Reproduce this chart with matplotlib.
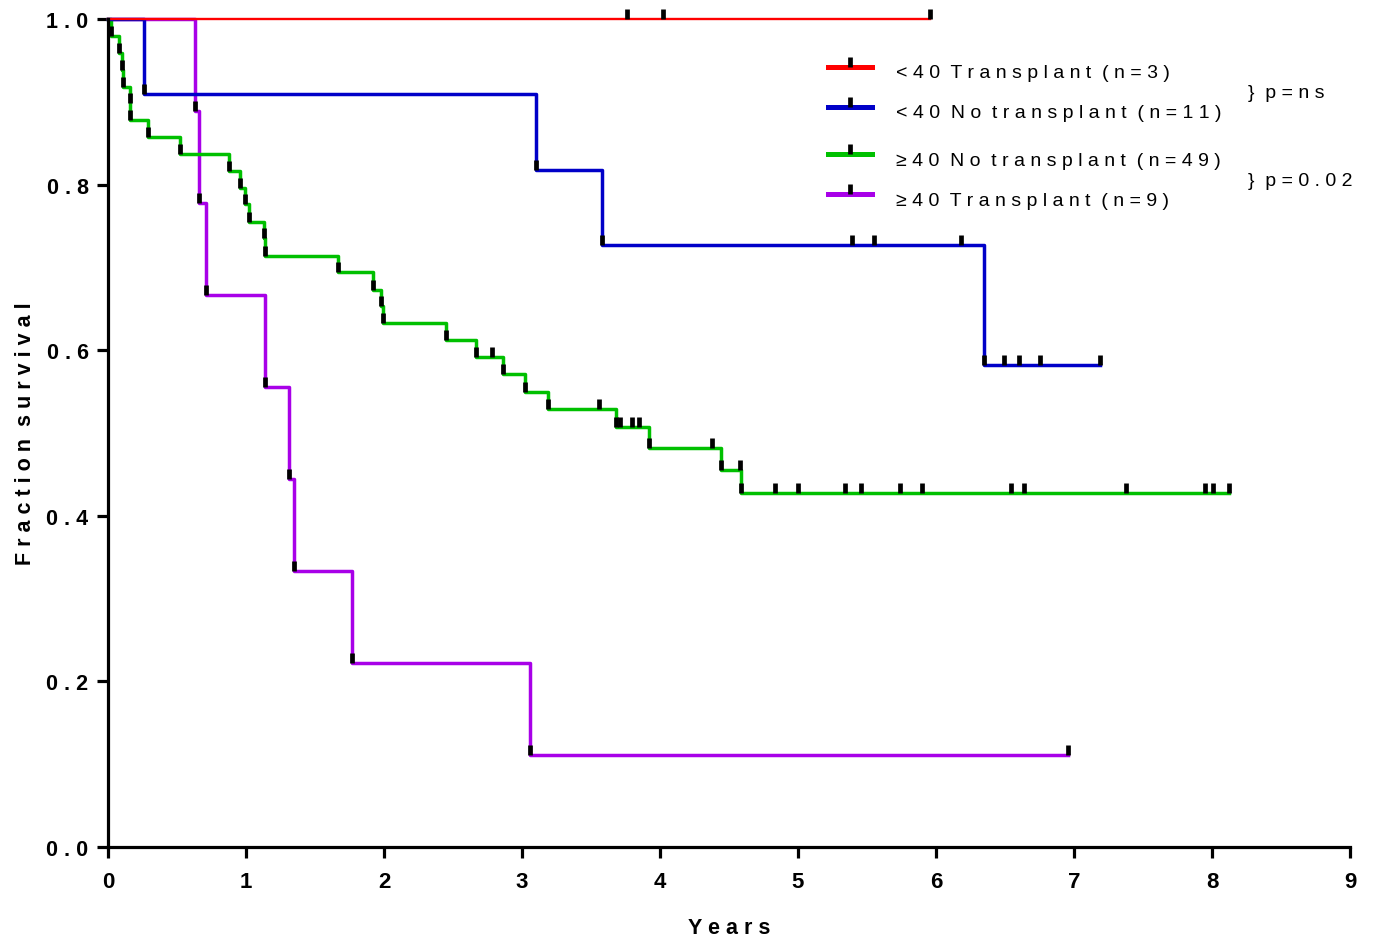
import numpy as np
import matplotlib
matplotlib.use('Agg')
import matplotlib.pyplot as plt
from matplotlib.lines import Line2D
from matplotlib.path import Path

plt.rcParams['font.family'] = ['Liberation Sans', 'DejaVu Sans']

# step times (years) and survival fraction
red_t = [0.0, 5.96]
red_s = [1.0, 1.0]
red_cens = [3.76, 4.02, 5.96]

blue_t = [0.0, 0.26, 3.10, 3.58, 6.35, 7.19]
blue_s = [1.0, 0.909, 0.818, 0.727, 0.582, 0.582]
blue_cens = [5.39, 5.55, 6.18, 6.49, 6.60, 6.75, 7.19]

green_t = [0.0, 0.02, 0.08, 0.10, 0.11, 0.16, 0.16, 0.29, 0.52, 0.875, 0.96, 0.99, 1.02,
           1.13, 1.14, 1.67, 1.92, 1.98, 1.99, 2.45, 2.67, 2.86, 3.02, 3.19, 3.68, 3.92,
           4.44, 4.59, 8.12]
green_s = [1.0, 0.980, 0.959, 0.939, 0.918, 0.898, 0.878, 0.857, 0.837, 0.816, 0.796, 0.776,
           0.755, 0.735, 0.714, 0.694, 0.673, 0.653, 0.633, 0.612, 0.592, 0.571, 0.550, 0.529,
           0.507, 0.482, 0.455, 0.427, 0.427]
green_cens = [2.78, 3.56, 3.71, 3.80, 3.85, 4.38, 4.58, 4.83, 5.00, 5.34, 5.46, 5.74, 5.90,
              6.54, 6.64, 7.38, 7.95, 8.01, 8.12]

purple_t = [0.0, 0.63, 0.66, 0.71, 1.14, 1.31, 1.35, 1.77, 3.06, 6.96]
purple_s = [1.0, 0.889, 0.778, 0.667, 0.556, 0.444, 0.333, 0.222, 0.111, 0.111]
purple_cens = [6.96]

labels = ['<40 Transplant (n=3)', '<40 No transplant (n=11)',
          '\u226540 No transplant (n=49)', '\u226540 Transplant (n=9)']
colors = ['#FF0000', '#0000C8', '#00C000', '#A800E8']
pvals = ['} p=ns', '} p=0.02']

xticks = [0, 1, 2, 3, 4, 5, 6, 7, 8, 9]
yticks = [0.0, 0.2, 0.4, 0.6, 0.8, 1.0]


def spaced(text):
    # wide letter spacing like the original
    return '  '.join(' '.join(w) for w in text.split(' '))


# small upward bar used for censor / event ticks
tick = Path([(0, 0), (0, 1)], [Path.MOVETO, Path.LINETO])

W, H = 1374, 945
fig = plt.figure(figsize=(W / 100, H / 100), dpi=100)
ax = fig.add_axes([108 / W, (H - 848) / H, 1242 / W, 828 / H])

curves = [(red_t, red_s, red_cens, colors[0], 1.7),
          (blue_t, blue_s, blue_cens, colors[1], 2.5),
          (green_t, green_s, green_cens, colors[2], 2.5),
          (purple_t, purple_s, purple_cens, colors[3], 2.5)]

for t, s, cens, c, lw in curves[::-1]:
    ax.step(t, s, where='post', color=c, lw=lw, clip_on=False, zorder=2)

for t, s, cens, c, lw in curves:
    t = np.array(t)
    s = np.array(s)
    drop = np.diff(s) < 0
    mx = list(t[1:][drop])
    my = list(s[1:][drop])
    for ct in cens:
        mx.append(ct)
        my.append(s[np.searchsorted(t, ct, side='right') - 1])
    ax.plot(mx, my, ls='none', marker=tick, ms=15, mew=3.4, mec='black',
            clip_on=False, zorder=3)

ax.set_xlim(0, 9)
ax.set_ylim(0, 1.0)
ax.set_xticks(xticks)
ax.set_xticklabels([str(x) for x in xticks], fontsize=16, fontweight='bold')
ax.set_yticks(yticks)
ax.set_yticklabels([spaced(f'{y:.1f}') for y in yticks], fontsize=15.5, fontweight='bold')

for side in ['top', 'right']:
    ax.spines[side].set_visible(False)
for side in ['left', 'bottom']:
    ax.spines[side].set_linewidth(2.3)
ax.tick_params(axis='both', direction='out', length=8, width=2.3)
ax.tick_params(axis='x', pad=9)
ax.tick_params(axis='y', pad=6)

ax.set_xlabel(spaced('Years'), fontsize=15.5, fontweight='bold')
ax.xaxis.set_label_coords(0.5, (848 - 918) / 828)
ax.set_ylabel(spaced('Fraction survival'), fontsize=15.5, fontweight='bold')
ax.yaxis.set_label_coords((36 - 108) / 1242, 0.5)

# legend drawn by hand to match the uneven row spacing
rows = [72, 112, 159, 199]
for lab, c, y in zip(labels, colors, rows):
    yl = 1 - (y - 4) / H
    fig.add_artist(Line2D([828 / W, 872 / W], [yl, yl], color=c, lw=3.6,
                          transform=fig.transFigure))
    fig.add_artist(Line2D([850 / W], [yl], ls='none', marker=tick, ms=15, mew=3.4,
                          mec='black', transform=fig.transFigure))
    fig.text(896 / W, 1 - (y + 2) / H, spaced(lab), fontsize=14, va='center', ha='left')

fig.text(1248 / W, 1 - 94 / H, spaced(pvals[0]), fontsize=14, va='center', ha='left')
fig.text(1248 / W, 1 - 182 / H, spaced(pvals[1]), fontsize=14, va='center', ha='left')

fig.savefig('out.png', dpi=100)
